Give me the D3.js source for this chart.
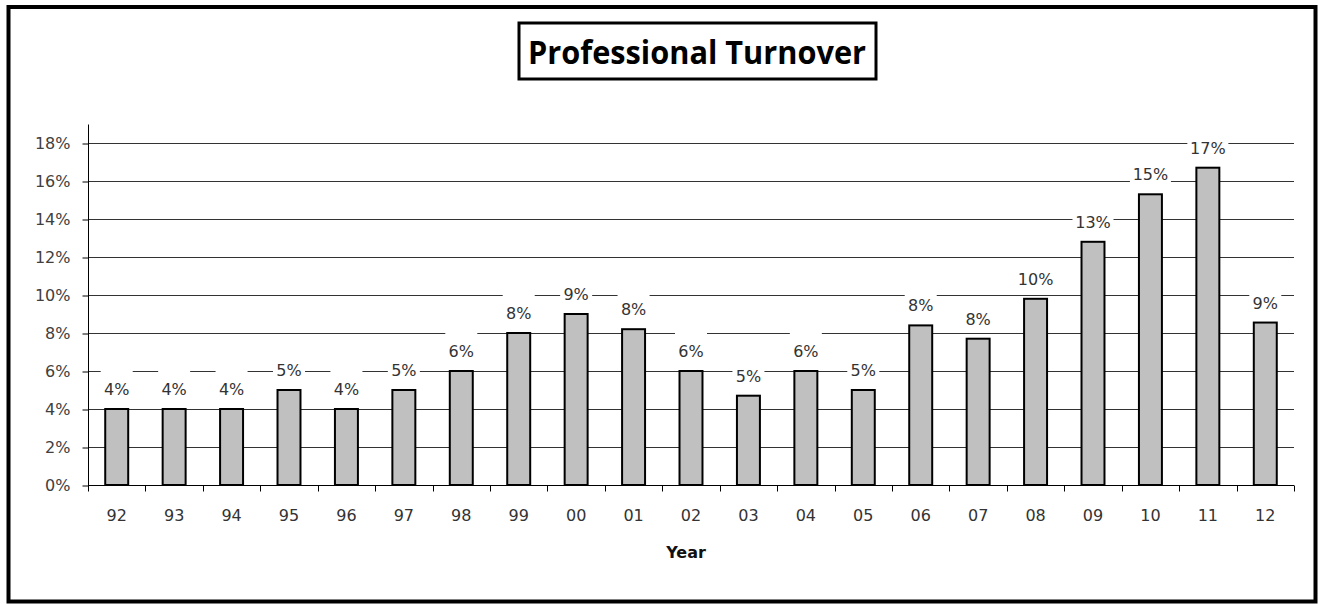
<!DOCTYPE html>
<html lang="en">
<head>
  <meta charset="UTF-8">
  <title>Professional Turnover</title>
  <script src="https://d3js.org/d3.v7.min.js"></script>
  <style>
    body {
      margin: 0;
      background: #fff;
    }
    text {
      font-family: "DejaVu Sans", sans-serif;
    }
    .grid line {
      stroke: #333;
      stroke-width: 1;
    }
    .bar {
      fill: #c0c0c0;
      stroke: #000;
      stroke-width: 2;
    }
    .label {
      font-size: 16px;
      fill: #333;
    }
  </style>
</head>
<body>
<div id="chart"></div>

<script>
  // data
  const years = ["92", "93", "94", "95", "96", "97", "98", "99", "00", "01", "02",
                 "03", "04", "05", "06", "07", "08", "09", "10", "11", "12"];
  const turnover = [4, 4, 4, 5, 4, 5, 6, 8, 9, 8.2, 6,
                    4.7, 6, 5, 8.4, 7.7, 9.8, 12.8, 15.3, 16.7, 8.55];
  const yTicks = [0, 2, 4, 6, 8, 10, 12, 14, 16, 18];

  const width = 1319;
  const height = 604;
  const margin = { top: 124, right: 25, bottom: 119, left: 88 };

  const svg = d3.select("#chart").append("svg")
    .attr("width", width)
    .attr("height", height);

  // outer frame
  svg.append("rect")
    .attr("x", 8.5)
    .attr("y", 7)
    .attr("width", 1307)
    .attr("height", 594.5)
    .attr("fill", "none")
    .attr("stroke", "#000")
    .attr("stroke-width", 4);

  // title box
  svg.append("rect")
    .attr("x", 519)
    .attr("y", 23)
    .attr("width", 357)
    .attr("height", 56)
    .attr("fill", "#fff")
    .attr("stroke", "#000")
    .attr("stroke-width", 3);

  svg.append("text")
    .attr("x", 697)
    .attr("y", 64)
    .attr("text-anchor", "middle")
    .attr("textLength", 338)
    .attr("lengthAdjust", "spacingAndGlyphs")
    .style("font-family", "'Liberation Sans Narrow', 'Open Sans', sans-serif")
    .style("font-weight", "bold")
    .style("font-size", "32px")
    .text("Professional Turnover");

  const x = d3.scaleBand()
    .domain(years)
    .range([margin.left, width - margin.right])
    .paddingInner(0.6)
    .paddingOuter(0.3);

  const y = d3.scaleLinear()
    .domain([0, 18])
    .range([height - margin.bottom, 143]);

  const fmt = d => d3.format(".0%")(d / 100);

  // gridlines
  svg.append("g")
    .attr("class", "grid")
    .selectAll("line")
    .data(yTicks.filter(d => d > 0))
    .join("line")
      .attr("x1", margin.left)
      .attr("x2", width - margin.right)
      .attr("y1", d => Math.round(y(d)) + 0.5)
      .attr("y2", d => Math.round(y(d)) + 0.5);

  // y axis
  const yAxis = svg.append("g")
    .attr("transform", `translate(${margin.left + 0.5},0.5)`)
    .call(d3.axisLeft(y).tickValues(yTicks).tickFormat(fmt).tickSize(6).tickPadding(12));
  yAxis.select(".domain").attr("d", `M0,${margin.top}V${y(0)}`).attr("stroke", "#000");
  yAxis.selectAll(".tick line").attr("stroke", "#000");
  yAxis.selectAll(".tick text")
    .attr("fill", "#404040")
    .style("font-size", "16px")
    .style("font-family", "'DejaVu Sans', sans-serif");

  // label backgrounds (break the gridlines)
  const labels = svg.append("g");
  labels.selectAll("rect")
    .data(turnover)
    .join("rect")
      .attr("x", (d, i) => x(years[i]) + x.bandwidth() / 2 - (fmt(d).length * 9 + 14) / 2)
      .attr("y", d => y(d) - 38)
      .attr("width", d => fmt(d).length * 9 + 14)
      .attr("height", 32)
      .attr("fill", "#fff");

  // bars
  svg.append("g")
    .selectAll("rect")
    .data(turnover)
    .join("rect")
      .attr("class", "bar")
      .attr("x", (d, i) => x(years[i]))
      .attr("y", d => y(d))
      .attr("width", x.bandwidth())
      .attr("height", d => y(0) - y(d));

  // data labels
  labels.selectAll("text")
    .data(turnover)
    .join("text")
      .attr("class", "label")
      .attr("x", (d, i) => x(years[i]) + x.bandwidth() / 2)
      .attr("y", d => y(d) - 14)
      .attr("text-anchor", "middle")
      .text(fmt);

  // x axis
  const xAxis = svg.append("g")
    .attr("transform", `translate(0,${y(0) + 0.5})`);
  xAxis.append("line")
    .attr("x1", margin.left)
    .attr("x2", width - margin.right)
    .attr("stroke", "#000");
  const bounds = d3.range(years.length + 1).map(i => margin.left + i * x.step());
  xAxis.selectAll(".tk")
    .data(bounds)
    .join("line")
      .attr("class", "tk")
      .attr("x1", d => Math.round(d) + 0.5)
      .attr("x2", d => Math.round(d) + 0.5)
      .attr("y1", 0)
      .attr("y2", 6)
      .attr("stroke", "#000");
  xAxis.selectAll("text")
    .data(years)
    .join("text")
      .attr("x", d => x(d) + x.bandwidth() / 2)
      .attr("y", 35)
      .attr("text-anchor", "middle")
      .attr("fill", "#333")
      .style("font-size", "16px")
      .text(d => d);

  svg.append("text")
    .attr("x", 686)
    .attr("y", 558)
    .attr("text-anchor", "middle")
    .style("font-weight", "bold")
    .style("font-size", "16px")
    .attr("fill", "#111")
    .text("Year");
</script>

</body>
</html>
